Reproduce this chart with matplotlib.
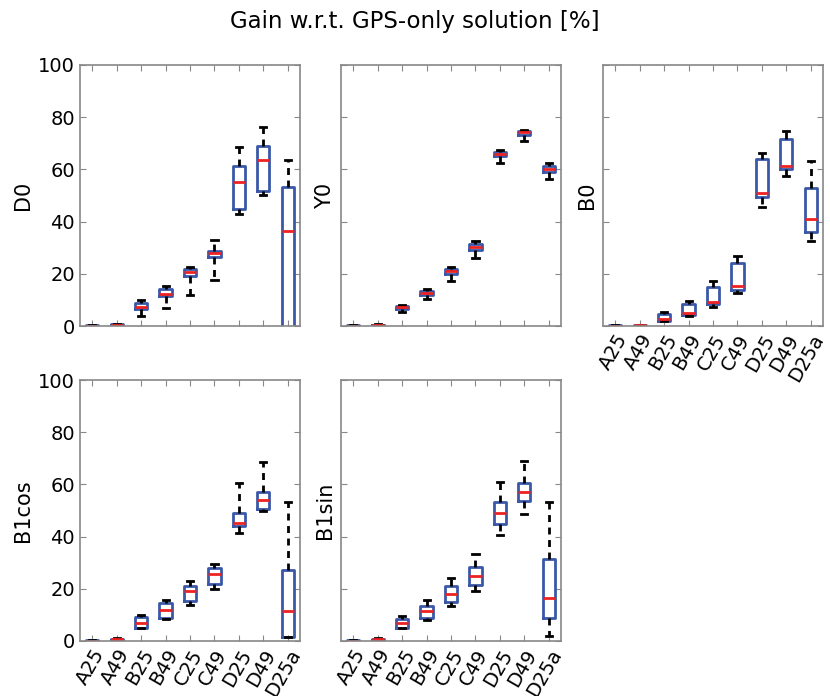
import matplotlib
matplotlib.use("Agg")
import matplotlib.pyplot as plt

labels = ["A25", "A49", "B25", "B49", "C25", "C49", "D25", "D49", "D25a"]

# each list: whisker low, q1, median, q3, whisker high
D0 = [
    (0.0, 0.0, 0.1, 0.2, 0.3), (0.1, 0.2, 0.4, 0.6, 0.8),
    (3.8, 6.4, 7.3, 8.9, 10.0), (6.8, 11.5, 12.4, 14.0, 15.3),
    (11.7, 19.2, 20.7, 22.0, 22.5), (17.5, 26.6, 28.1, 28.9, 33.0),
    (42.8, 44.8, 55.2, 61.3, 68.7), (50.2, 51.7, 63.6, 69.1, 76.4),
    (-15.0, -5.0, 36.4, 53.3, 63.6),
]
Y0 = [
    (0.0, 0.0, 0.1, 0.2, 0.3), (0.1, 0.2, 0.3, 0.5, 0.7),
    (5.5, 6.5, 7.1, 7.7, 8.0), (10.2, 11.9, 12.6, 13.4, 14.0),
    (17.4, 19.9, 20.9, 21.7, 22.5), (26.1, 29.2, 30.3, 31.3, 32.6),
    (62.6, 65.0, 66.0, 66.8, 67.4), (71.0, 73.3, 74.2, 74.6, 75.2),
    (56.2, 59.0, 60.2, 61.3, 62.3),
]
B0 = [
    (0.0, 0.0, 0.1, 0.2, 0.3), (0.0, 0.1, 0.2, 0.3, 0.4),
    (1.8, 2.0, 2.7, 4.5, 5.2), (3.9, 4.1, 5.0, 8.4, 9.7),
    (7.3, 8.3, 9.1, 14.8, 17.2), (12.8, 13.9, 15.3, 24.1, 26.9),
    (45.6, 49.4, 50.8, 64.0, 66.4), (57.5, 60.0, 61.3, 71.6, 74.7),
    (32.7, 35.9, 40.9, 53.0, 63.1),
]
B1cos = [
    (0.0, 0.0, 0.1, 0.2, 0.3), (0.2, 0.3, 0.6, 0.9, 1.1),
    (5.0, 5.1, 7.0, 9.3, 9.9), (8.5, 8.9, 11.7, 14.4, 15.6),
    (13.7, 15.3, 19.1, 21.0, 23.0), (19.8, 21.8, 25.6, 28.1, 29.4),
    (41.5, 44.0, 45.4, 49.0, 60.7), (49.7, 50.6, 53.9, 56.9, 68.7),
    (1.5, 1.7, 11.6, 27.1, 53.1),
]
B1sin = [
    (0.0, 0.0, 0.1, 0.2, 0.3), (0.2, 0.3, 0.6, 0.9, 1.1),
    (4.8, 5.1, 7.0, 8.3, 9.7), (8.1, 8.9, 11.6, 13.5, 15.6),
    (13.5, 14.9, 18.1, 21.2, 24.0), (19.0, 21.4, 24.9, 28.5, 33.2),
    (40.6, 44.8, 49.1, 53.3, 61.0), (48.6, 53.5, 57.0, 60.7, 68.8),
    (1.9, 8.7, 16.4, 31.6, 53.1),
]

panels = [("D0", D0), ("Y0", Y0), ("B0", B0), ("B1cos", B1cos), ("B1sin", B1sin)]

fig = plt.figure(figsize=(8.3, 6.96), dpi=100)
lefts = [80 / 830, 341 / 830, 603 / 830]
bottoms = [1 - 326 / 696, 1 - 641 / 696]
w, h = 220 / 830, 261 / 696

first = None
for i, (name, stats) in enumerate(panels):
    row, col = divmod(i, 3)
    ax = fig.add_axes([lefts[col], bottoms[row], w, h], sharey=first)
    if first is None:
        first = ax
    bxp_stats = [dict(whislo=s[0], q1=s[1], med=s[2], q3=s[3], whishi=s[4],
                      fliers=[]) for s in stats]
    ax.bxp(bxp_stats, widths=0.5, showfliers=False,
           boxprops=dict(color="#3b58a8", linewidth=2),
           medianprops=dict(color="#ee2222", linewidth=2),
           whiskerprops=dict(color="black", linewidth=2, linestyle=(0, (2.5, 2))),
           capprops=dict(color="black", linewidth=2))
    ax.set_ylim(0, 100)
    ax.set_xlim(0.5, 9.5)
    ax.set_yticks([0, 20, 40, 60, 80, 100])
    ax.set_ylabel(name, fontsize=15)
    ax.tick_params(direction="in", top=True, right=True, length=4,
                   color="#888888", labelsize=14)
    for sp in ax.spines.values():
        sp.set_color("#888888")
        sp.set_linewidth(1.2)
    if col > 0:
        ax.tick_params(labelleft=False)
    ax.set_xticks(range(1, 10))
    if name in ("B0", "B1cos", "B1sin"):
        ax.set_xticklabels(labels, rotation=60, ha="right",
                           rotation_mode="anchor", fontsize=14)
    else:
        ax.tick_params(labelbottom=False)

fig.suptitle("Gain w.r.t. GPS-only solution [%]", fontsize=16.5, y=0.985)
fig.savefig("out.png", dpi=100)
